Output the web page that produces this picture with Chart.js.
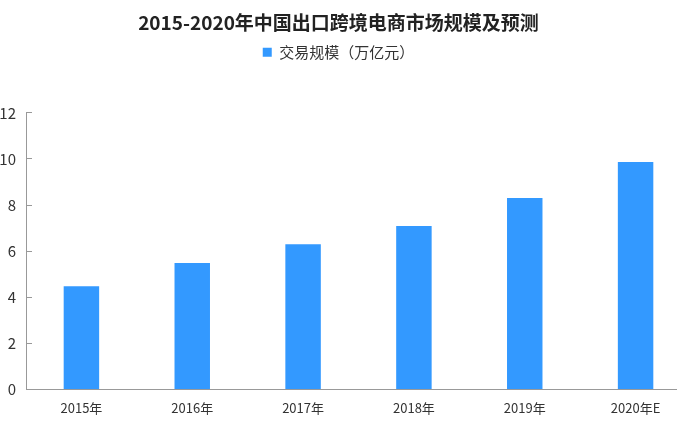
<!DOCTYPE html>
<html>
<head>
<meta charset="utf-8">
<script src="https://cdn.jsdelivr.net/npm/chart.js@4/dist/chart.umd.min.js"></script>
<style>
  html, body { margin: 0; padding: 0; background: #fff; overflow: hidden; }
  #wrap { width: 677px; height: 423px; position: relative; }
</style>
</head>
<body>
<div id="wrap"><canvas id="grafico"></canvas></div>
<script>
// Dados do gráfico
const anos = ['2015年', '2016年', '2017年', '2018年', '2019年', '2020年E'];
const valores = [4.48, 5.48, 6.3, 7.09, 8.3, 9.87];
const tituloTexto = '2015-2020年中国出口跨境电商市场规模及预测';
const serieNome = '交易规模（万亿元）';
const fonte = '"Noto Sans CJK SC", "DejaVu Sans", sans-serif';

// Legenda mais alta (espaço até o gráfico) e eixo x que passa da borda direita
const ajustes = {
    id: 'ajustes',
    beforeInit(chart) {
        const fitOriginal = chart.legend.fit;
        chart.legend.fit = function () {
            fitOriginal.bind(chart.legend)();
            this.height += 43;
        };
    },
    afterLayout(chart) {
        const x = chart.scales.x;
        x.right += 14;
        x.width += 14;
        x.configure();
    }
};

const ctx = document.getElementById('grafico').getContext('2d');
new Chart(ctx, {
    type: 'bar',
    data: {
        labels: anos,
        datasets: [{
            label: serieNome,
            data: valores,
            backgroundColor: '#3399ff',
            borderWidth: 0,
            barPercentage: 0.32,
            categoryPercentage: 1.0
        }]
    },
    options: {
        responsive: true,
        maintainAspectRatio: false,
        animation: false,
        layout: { padding: { top: 8, bottom: 4, left: 0, right: 0 } },
        scales: {
            y: {
                min: 0,
                max: 12,
                ticks: { stepSize: 2, color: '#333', padding: 16, font: { family: fonte, size: 15 } },
                // marcas curtas para dentro do gráfico
                grid: { display: true, drawOnChartArea: false, tickLength: -6, color: '#999' },
                border: { display: true, color: '#999' },
                afterFit: (scale) => { scale.width = 26; }
            },
            x: {
                ticks: { color: '#333', padding: 3, font: { family: fonte, size: 13 } },
                grid: { display: false },
                border: { display: true, color: '#999' }
            }
        },
        plugins: {
            title: {
                display: true,
                text: tituloTexto,
                color: '#222',
                font: { family: fonte, size: 19, weight: 'bold' },
                padding: { top: 3, bottom: 1 }
            },
            legend: {
                display: true,
                labels: {
                    color: '#333',
                    boxWidth: 9,
                    boxHeight: 9,
                    padding: 10,
                    font: { family: fonte, size: 15 }
                }
            },
            tooltip: { enabled: false }
        }
    },
    plugins: [ajustes]
});
</script>
</body>
</html>
